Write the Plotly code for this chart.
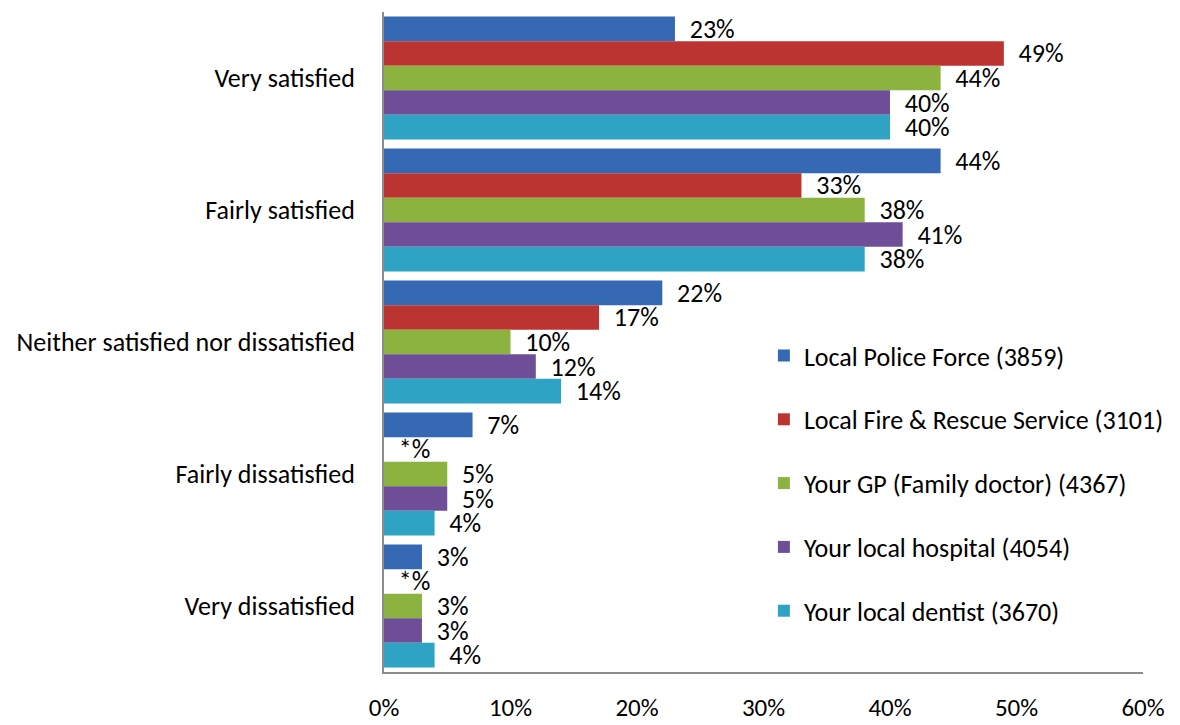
import plotly.graph_objects as go

categories = ["Very satisfied", "Fairly satisfied", "Neither satisfied nor dissatisfied",
              "Fairly dissatisfied", "Very dissatisfied"]

series_names = ["Local Police Force (3859)", "Local Fire & Rescue Service (3101)",
                "Your GP (Family doctor) (4367)", "Your local hospital (4054)",
                "Your local dentist (3670)"]

police = [0.23, 0.44, 0.22, 0.07, 0.03]
fire = [0.49, 0.33, 0.17, 0.0, 0.0]
gp = [0.44, 0.38, 0.10, 0.05, 0.03]
hospital = [0.40, 0.41, 0.12, 0.05, 0.03]
dentist = [0.40, 0.38, 0.14, 0.04, 0.04]

fire_labels = ["49%", "33%", "17%", "*%", "*%"]

colors = ["#3569b3", "#bb3432", "#8cb23f", "#6e4f97", "#2fa3c3"]

series_values = [police, fire, gp, hospital, dentist]

FONT = "Calibri, Carlito, Lato, sans-serif"
FS = 26
NB = "\u00a0\u00a0"

fig = go.Figure()
for i, (name, vals, col) in enumerate(zip(series_names, series_values, colors)):
    if i == 1:
        labels = fire_labels
    else:
        labels = [f"{round(v*100)}%" for v in vals]
    fig.add_trace(go.Bar(
        y=categories, x=vals, name=name, orientation="h",
        marker=dict(color=col, line=dict(width=0)),
        text=[NB + t for t in labels], textposition="outside",
        constraintext="none",
        textfont=dict(family=FONT, size=FS, color="#000000"),
        cliponaxis=False, legendgroup=f"g{i}",
    ))

fig.update_layout(
    width=1180, height=725,
    margin=dict(l=376, r=45, t=4, b=61),
    paper_bgcolor="white", plot_bgcolor="white",
    barmode="group", bargap=0.07, bargroupgap=0,
    font=dict(family=FONT, size=FS, color="#000000"),
    legend=dict(x=0.5005, y=0.515, xanchor="left", yanchor="top",
                bgcolor="rgba(0,0,0,0)", tracegroupgap=27,
                font=dict(family=FONT, size=FS, color="#000000")),
    showlegend=True,
)
fig.update_xaxes(range=[0, 0.6], dtick=0.1, tickformat=".0%", showgrid=False,
                 zeroline=False, showline=True, linecolor="#8c8c8c", linewidth=2,
                 ticks="", ticklabelstandoff=12,
                 tickfont=dict(family=FONT, size=25, color="#000000"))
fig.update_yaxes(autorange="reversed", showgrid=False, zeroline=False,
                 showline=True, linecolor="#8c8c8c", linewidth=2, ticks="",
                 ticklabelstandoff=22,
                 tickfont=dict(family=FONT, size=FS, color="#000000"))

fig.write_html("out.html")
